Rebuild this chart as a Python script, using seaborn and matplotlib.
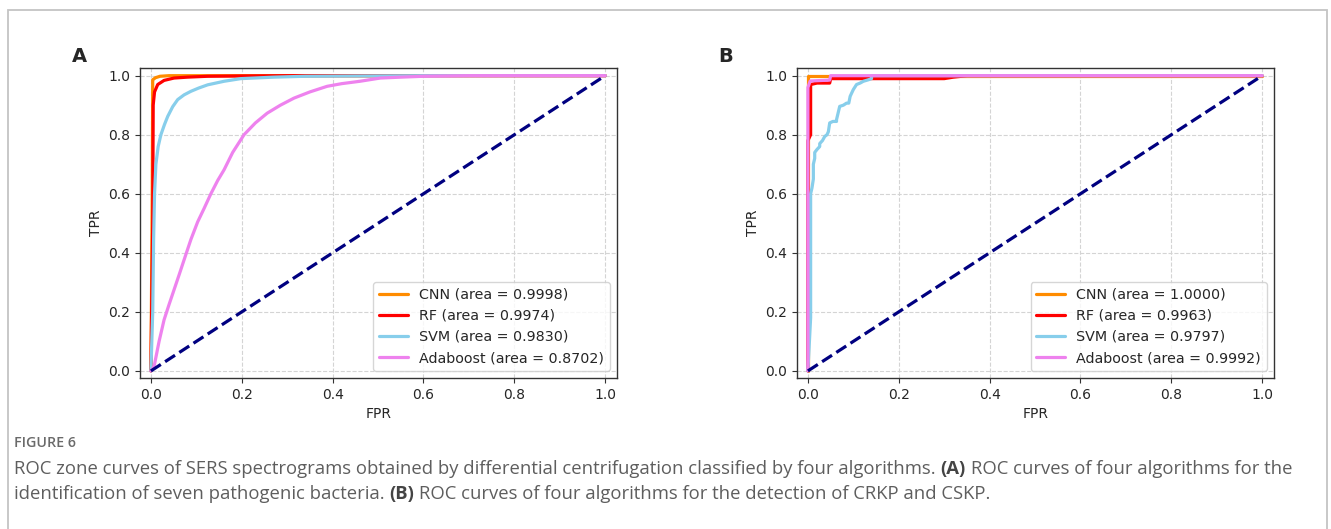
import numpy as np
import pandas as pd
import matplotlib.pyplot as plt
import seaborn as sns
from matplotlib.patches import Rectangle

# --- 數據 (從圖上估計) ---
models = ['CNN', 'RF', 'SVM', 'Adaboost']
colors = ['darkorange', 'red', 'skyblue', 'violet']

auc_a = [0.9998, 0.9974, 0.9830, 0.8702]
auc_b = [1.0000, 0.9963, 0.9797, 0.9992]

# 面板 A: 七種病原菌
cnn_a_fpr = [0, 0.003, 0.004, 0.01, 0.02, 0.04, 1.0]
cnn_a_tpr = [0, 0.6, 0.986, 0.993, 0.998, 1.0, 1.0]
rf_a_fpr = [0, 0.004, 0.005, 0.008, 0.015, 0.029, 0.051, 0.08, 0.125, 0.2, 0.3, 1.0]
rf_a_tpr = [0, 0.5, 0.90, 0.945, 0.97, 0.984, 0.992, 0.995, 0.998, 0.999, 1.0, 1.0]
svm_a_fpr = [0, 0.004, 0.006, 0.008, 0.011, 0.016, 0.022, 0.03, 0.037, 0.048, 0.059,
             0.073, 0.088, 0.105, 0.125, 0.161, 0.198, 0.27, 0.34, 0.45, 0.6, 1.0]
svm_a_tpr = [0, 0.2, 0.45, 0.6, 0.7, 0.76, 0.8, 0.835, 0.862, 0.895, 0.919,
             0.935, 0.947, 0.958, 0.969, 0.981, 0.99, 0.995, 0.998, 0.999, 1.0, 1.0]
ada_a_fpr = [0, 0.007, 0.018, 0.029, 0.04, 0.051, 0.062, 0.073, 0.088, 0.103, 0.117,
             0.132, 0.147, 0.161, 0.18, 0.205, 0.23, 0.256, 0.285, 0.315, 0.35, 0.388,
             0.42, 0.46, 0.505, 0.55, 0.6, 0.7, 1.0]
ada_a_tpr = [0, 0.015, 0.1, 0.173, 0.225, 0.275, 0.325, 0.376, 0.445, 0.505, 0.55,
             0.6, 0.645, 0.681, 0.74, 0.8, 0.84, 0.873, 0.9, 0.924, 0.945, 0.964,
             0.973, 0.981, 0.992, 0.995, 0.998, 1.0, 1.0]

# 面板 B: CRKP 與 CSKP
cnn_b_fpr = [0, 0, 1.0]
cnn_b_tpr = [0, 1.0, 1.0]
rf_b_fpr = [0, 0, 0.006, 0.006, 0.02, 0.048, 0.05, 0.3, 0.32, 0.35, 1.0]
rf_b_tpr = [0, 0.78, 0.8, 0.97, 0.975, 0.975, 0.99, 0.99, 0.995, 1.0, 1.0]
svm_b_fpr = [0, 0.006, 0.006, 0.009, 0.012, 0.012, 0.015, 0.015, 0.02, 0.026, 0.026,
             0.032, 0.037, 0.042, 0.045, 0.048, 0.055, 0.063, 0.063, 0.07, 0.078,
             0.085, 0.09, 0.093, 0.096, 0.1, 0.107, 0.115, 0.122, 0.133, 0.14, 0.14, 1.0]
svm_b_tpr = [0, 0.18, 0.6, 0.62, 0.65, 0.7, 0.72, 0.74, 0.75, 0.76, 0.77,
             0.78, 0.794, 0.80, 0.81, 0.84, 0.845, 0.845, 0.851, 0.896, 0.9,
             0.907, 0.907, 0.93, 0.94, 0.953, 0.97, 0.975, 0.981, 0.986, 0.99, 1.0, 1.0]
ada_b_fpr = [0, 0, 0.005, 0.048, 0.05, 1.0]
ada_b_tpr = [0, 0.96, 0.982, 0.985, 1.0, 1.0]

curves_a = [(cnn_a_fpr, cnn_a_tpr), (rf_a_fpr, rf_a_tpr), (svm_a_fpr, svm_a_tpr), (ada_a_fpr, ada_a_tpr)]
curves_b = [(cnn_b_fpr, cnn_b_tpr), (rf_b_fpr, rf_b_tpr), (svm_b_fpr, svm_b_tpr), (ada_b_fpr, ada_b_tpr)]

ticks = [0.0, 0.2, 0.4, 0.6, 0.8, 1.0]

sns.set_style('ticks')
plt.rcParams['font.family'] = ['DejaVu Sans']

fig = plt.figure(figsize=(13.31, 5.29), dpi=100)

# 外框
fig.add_artist(Rectangle((7.5 / 1331, -0.2), (1327 - 7.5) / 1331, 1.2 - 9.5 / 529,
                         transform=fig.transFigure, fill=False, edgecolor='#c4c4c4', lw=1.3))

ax_a = fig.add_axes([140 / 1331, 1 - 378 / 529, 477 / 1331, 310 / 529])
ax_b = fig.add_axes([797 / 1331, 1 - 378 / 529, 477 / 1331, 310 / 529])


def draw_panel(ax, curves, aucs, letter, lx):
    for (fpr, tpr), name, c, auc in zip(curves, models, colors, aucs):
        df = pd.DataFrame({'FPR': fpr, 'TPR': tpr})
        sns.lineplot(data=df, x='FPR', y='TPR', ax=ax, color=c, lw=2.3, sort=False,
                     estimator=None, label=f'{name} (area = {auc:.4f})')
    ax.plot([0, 1], [0, 1], color='navy', lw=2.3, linestyle='--')
    ax.set_xlim(-0.024, 1.026)
    ax.set_ylim(-0.024, 1.026)
    ax.set_xticks(ticks)
    ax.set_yticks(ticks)
    ax.grid(True, linestyle='--', color='#d4d4d4', lw=0.8)
    ax.set_axisbelow(True)
    ax.set_xlabel('FPR', fontsize=10)
    ax.set_ylabel('TPR', fontsize=10)
    ax.tick_params(labelsize=10, length=3.5, width=0.8, color='#333333')
    for s in ax.spines.values():
        s.set_color('#333333')
        s.set_linewidth(1.0)
    ax.legend(loc='lower right', fontsize=10.3, frameon=True, edgecolor='#cccccc',
              fancybox=True, framealpha=0.8, handlelength=2.0)
    fig.text(lx / 1331, 1 - 57 / 529, letter, fontsize=14, fontweight='bold',
             ha='center', va='center')


draw_panel(ax_a, curves_a, auc_a, 'A', 79)
draw_panel(ax_b, curves_b, auc_b, 'B', 726)

# --- 圖說 ---
cap = fig.add_axes([0, 0, 1, 1])
cap.axis('off')
cap.set_xlim(0, 1)
cap.set_ylim(0, 1)
cap_font = ['Open Sans', 'DejaVu Sans']
cap_color = '#5e5e5e'
fig.text(14 / 1331, 1 - 443 / 529, 'FIGURE 6', fontsize=10.3, color='#6a6a6a',
         fontweight='semibold', family=cap_font, va='center', ha='left')

lines = [
    [('ROC zone curves of SERS spectrograms obtained by differential centrifugation classified by four algorithms.', 'normal'),
     ('(A)', 'bold'),
     ('ROC curves of four algorithms for the', 'normal')],
    [('identification of seven pathogenic bacteria.', 'normal'),
     ('(B)', 'bold'),
     ('ROC curves of four algorithms for the detection of CRKP and CSKP.', 'normal')],
]
line_y = [469, 494]
fs = 13.3
for pieces, yy in zip(lines, line_y):
    prev = None
    for txt, wt in pieces:
        col = '#444444' if wt == 'bold' else cap_color
        if prev is None:
            prev = cap.text(14 / 1331, 1 - yy / 529, txt, fontsize=fs, fontweight=wt,
                            color=col, family=cap_font, ha='left', va='center')
        else:
            prev = cap.annotate(txt, xy=(1, 0), xycoords=prev, xytext=(3.5, 0),
                                textcoords='offset points', fontsize=fs, fontweight=wt,
                                color=col, family=cap_font, ha='left', va='bottom')

fig.savefig('out.png', dpi=100)
